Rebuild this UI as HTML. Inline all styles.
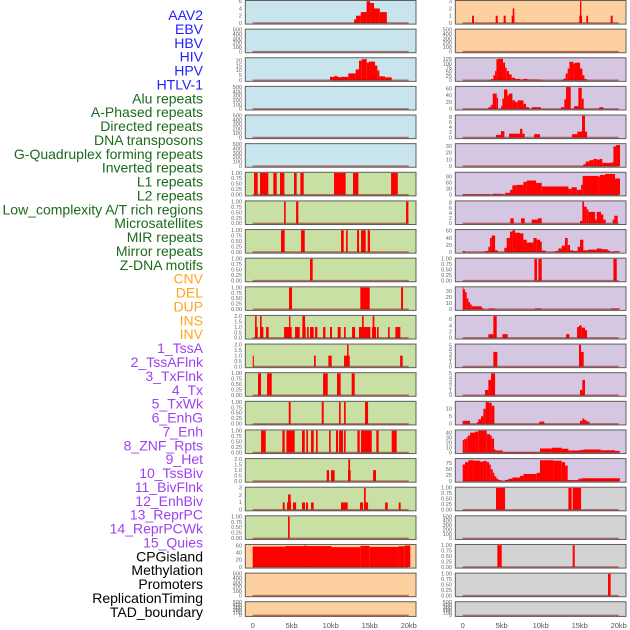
<!DOCTYPE html>
<html><head><meta charset="utf-8"><style>
html,body{margin:0;padding:0;background:#fff;width:630px;height:630px;overflow:hidden}
svg{display:block}
</style></head><body>
<svg id="chart" width="630" height="630" viewBox="0 0 630 630" xmlns="http://www.w3.org/2000/svg">
<g id="labels"></g>
<g id="panels"></g>
<g id="xaxes"></g>
</svg>
<script>
const labelNames = ["AAV2","EBV","HBV","HIV","HPV","HTLV-1","Alu repeats","A-Phased repeats","Directed repeats","DNA transposons","G-Quadruplex forming repeats","Inverted repeats","L1 repeats","L2 repeats","Low_complexity A/T rich regions","Microsatellites","MIR repeats","Mirror repeats","Z-DNA motifs","CNV","DEL","DUP","INS","INV","1_TssA","2_TssAFlnk","3_TxFlnk","4_Tx","5_TxWk","6_EnhG","7_Enh","8_ZNF_Rpts","9_Het","10_TssBiv","11_BivFlnk","12_EnhBiv","13_ReprPC","14_ReprPCWk","15_Quies","CPGisland","Methylation","Promoters","ReplicationTiming","TAD_boundary"];
const labelGroups = [0,0,0,0,0,0,1,1,1,1,1,1,1,1,1,1,1,1,1,2,2,2,2,2,3,3,3,3,3,3,3,3,3,3,3,3,3,3,3,4,4,4,4,4];
const groupColors = ["#1f1fff","#1a6b1a","#ffa51f","#a040f0","#000000"];
const panelBg = ["#c8e4ec","#c9e0a4","#fdd09f","#d5c6e1","#d3d3d3"];
const xTicks = [0,5,10,15,20];
const xTickLabels = ["0","5kb","10kb","15kb","20kb"];
const E = [0,100,200,300,400,500];
const B = [0,0.25,0.5,0.75,1];
const T2 = [0,0.5,1,1.5,2];
const panelMax = [6,500,22.2,500,500,500,1,1,1,1,1,2,2,1,1,1,2,3,1,61,500,500, 3,500,130,64,8.5,33,110,8.5,62,1,36,7,5.2,5,14.5,44,92,1,500,1,1,500];
const panelTicks = [[0,2,4,6],E,[0,5,10,15,20],E,E,E,B,B,B,B,B,T2,T2,B,B,B,T2,[0,1,2,3],B,[0,20,40,60],E,E,
 [0,1,2,3],E,[0,25,50,75,100,125],[0,20,40,60],[0,2,4,6,8],[0,10,20,30],[0,30,60,90],[0,2,4,6,8],[0,20,40,60],B,[0,10,20,30],[0,2,4,6],[0,1,2,3,4,5],[0,1,2,3,4,5],[0,5,10],[0,10,20,30,40],[0,25,50,75],B,E,B,B,E];
const panelTickDigits = [0,0,0,0,0,0,2,2,2,2,2,1,1,2,2,2,1,0,2,0,0,0, 0,0,0,0,0,0,0,0,0,2,0,0,0,0,0,0,0,2,0,2,2,0];
const panelBars = [
 [[13.0,13.25,1],[13.25,13.85,2],[13.85,14.6,3],[14.6,15.05,6],[15.05,15.55,5.5],[15.55,16.3,4],[16.3,17.2,3]],
 [],
 [[9.91,11.07,3.5],[10.5,10.8,4.5],[11.07,11.32,3],[11.32,12.26,3.5],[12.26,13.2,7],[13.2,13.63,11],[13.63,13.97,20],[13.97,14.62,21.5],[14.62,14.91,18],[14.91,15.68,19],[15.68,15.98,15],[15.98,16.24,10],[16.24,16.97,4],[16.97,17.82,3]],
 [],[],[],
 [[0.17,0.64,1],[0.94,2.0,1],[2.65,3.08,1],[3.5,4.06,1],[5.3,5.64,1],[6.11,6.54,1],[10.43,11.92,1],[12.86,13.55,1],[17.74,18.6,1]],
 [[4.02,4.23,1],[5.56,5.85,1],[19.66,19.96,1]],
 [[3.63,4.1,1],[6.2,6.67,1],[11.32,11.67,1],[11.97,12.18,1],[13.38,13.63,1],[13.89,14.49,1],[14.74,15.04,1]],
 [[7.35,7.69,1]],
 [[4.66,5.04,1],[13.8,15.0,1],[19.02,19.27,1]],
 [[0.3,0.64,1],[0.94,1.37,1],[1.71,2.05,1],[4.02,5.0,1],[5.43,6.03,1],[6.37,6.79,1],[6.97,7.18,1],[7.35,7.82,1],[7.99,8.29,1],[9.02,9.32,1],[9.91,10.17,1],[10.9,11.28,1],[11.71,11.92,1],[12.74,13.12,1],[13.63,15.09,1],[15.3,15.81,1],[15.94,16.15,1],[17.35,17.56,1],[18.29,18.93,1],
  [0.3,0.51,2],[0.94,1.15,2],[4.66,4.83,2],[6.37,6.71,2],[14.02,14.23,2],[15.38,15.6,2]],
 [[0.0,0.15,1],[7.86,8.08,1],[9.7,10.13,1],[11.71,12.44,1],[12.1,12.3,2],[18.9,19.23,1]],
 [[0.68,1.07,1],[1.84,2.44,1],[9.02,9.62,1],[10.81,11.28,1],[12.69,13.08,1]],
 [[4.62,4.87,1],[8.85,9.1,1],[11.07,11.28,1],[11.71,11.92,1],[14.4,14.79,1]],
 [[1.07,1.67,1],[3.8,4.1,1],[4.32,5.38,1],[6.32,6.67,1],[6.88,7.09,1],[7.48,7.82,1],[8.12,8.33,1],[9.79,10.0,1],[10.68,10.94,1],[11.07,11.58,1],[11.71,11.92,1],[13.42,13.72,1],[13.89,15.26,1],[15.85,16.15,1],[17.82,18.46,1]],
 [[9.49,9.79,1],[10.04,10.51,1],[12.22,12.56,1],[12.26,12.48,2],[15.43,15.81,1]],
 [[3.85,4.1,1],[4.4,4.91,1],[4.53,4.87,2.1],[5.17,5.56,1],[6.32,6.71,1],[6.84,7.09,1],[7.48,7.82,1],[11.32,12.18,1],[13.76,14.15,1],[14.32,14.79,1],[14.27,14.49,3],[16.97,17.31,1],[18.72,18.97,1]],
 [[4.53,4.74,1]],
 [[0,4.2,57],[4.2,10.1,58.5],[6.6,6.8,60],[10.1,13.8,55.5],[13.8,15.0,59],[15.0,18.7,56],[18.7,19.5,58],[19.5,20.2,60]],
 [],[],
 [[1.2,1.45,1],[4.23,4.49,1],[5.26,5.51,1],[6.28,6.62,1],[6.41,6.62,2],[14.95,15.3,1],[15.04,15.21,3],[15.85,16.07,1],[18.97,19.23,1]],
 [],
 [[3.29,3.63,2],[3.63,3.93,7],[3.93,4.15,30],[4.15,4.32,55],[4.32,4.53,125],[4.53,5.17,128],[5.17,5.43,105],[5.43,5.64,75],[5.64,5.94,55],[5.94,6.28,35],[6.28,6.71,15],[6.71,7.35,8],[7.35,7.78,5],[7.78,8.29,8],[8.29,9.27,5],[9.27,10.13,4],[12.69,12.95,3],[12.95,13.2,10],[13.2,13.46,40],[13.46,13.68,70],[13.68,14.19,110],[14.19,14.4,100],[14.4,15.04,105],[15.04,15.34,70],[15.34,15.6,30],[15.6,15.9,8]],
 [[3.29,3.59,5],[3.59,3.85,12],[3.85,4.36,45],[4.36,4.53,33],[4.91,5.09,8],[5.09,5.3,30],[5.3,5.73,57],[5.73,5.94,40],[5.94,6.37,45],[6.37,6.71,25],[6.71,7.05,20],[7.05,7.78,25],[7.78,8.12,15],[8.12,8.5,5],[8.85,10.04,5],[12.61,13.03,5],[13.03,13.25,28],[13.25,13.85,66],[14.27,14.83,8],[14.83,15.26,62],[15.26,15.51,30],[17.52,18.03,5]],
 [[4.27,4.91,1],[4.91,5.34,2.5],[5.94,7.35,1.5],[7.35,7.65,3.4],[7.65,7.95,1.5],[9.15,9.91,1.3],[14.02,14.7,1.3],[14.7,15.3,2.3],[15.3,15.68,8.5],[15.68,15.94,2.3]],
 [[15.47,15.77,3],[15.77,16.24,7],[16.24,16.75,9],[16.75,17.18,11],[17.18,17.6,10],[17.6,17.9,11],[17.9,19.1,5],[19.1,19.32,6],[19.32,19.66,30],[19.66,20.17,32]],
 [[0,3.5,3],[3.85,5.21,5],[5.43,6.07,10],[6.07,6.37,25],[6.37,6.92,48],[6.92,7.78,50],[7.78,8.2,65],[8.2,9.4,72],[9.4,10.13,60],[10.13,13.55,42],[13.55,13.97,30],[13.97,14.62,38],[14.62,15.17,25],[15.17,15.38,50],[15.38,17.39,95],[17.39,17.6,92],[17.6,18.25,100],[18.25,19.53,105],[19.53,20.17,82]],
 [[6.11,6.54,2],[7.48,7.95,2],[8.85,9.62,1.5],[9.62,10.13,2],[15.04,15.34,1],[15.34,15.56,8.5],[15.56,15.9,6.5],[15.9,16.11,5.5],[16.11,16.97,4.5],[16.97,17.18,1.5],[17.18,17.74,4.5],[17.74,18.03,3.5],[18.03,18.33,1.5],[19.23,19.44,1.5],[19.44,19.87,3]],
 [[0,0.3,3],[2.86,3.29,3],[3.29,3.5,15],[3.5,3.72,40],[3.72,4.15,47],[4.15,4.49,5],[5.34,5.64,12],[5.64,6.07,40],[6.07,6.37,58],[6.37,6.71,62],[6.71,7.35,55],[7.35,7.78,53],[7.78,8.2,35],[8.2,9.06,27],[9.06,9.49,40],[9.49,9.91,35],[9.91,10.13,30],[10.13,10.64,4],[11.84,12.26,3],[12.26,12.69,10],[12.69,13.12,18],[13.12,13.46,40],[13.46,13.76,20],[13.76,14.19,5],[14.19,14.74,3],[14.74,15.04,15],[15.04,15.47,35],[15.47,16.11,5],[16.11,17.18,7],[17.18,17.82,10],[17.82,18.59,8],[18.59,18.89,4],[19.32,20.17,2]],
 [[9.19,9.53,1],[9.7,10.13,1],[19.32,19.75,1]],
 [[0,0.1,36],[0.1,0.3,33],[0.3,0.51,28],[0.51,0.73,18],[0.73,0.94,12],[0.94,1.15,8],[1.15,2.44,5],[2.44,2.65,2],[3.29,4.15,1.5],[9.27,10.13,1.5],[19.02,20.17,1.5]],
 [[3.29,3.93,1.2],[3.93,4.36,7],[5.09,5.77,1.2],[13.25,13.68,1.2],[14.66,14.91,3.5],[14.91,15.26,4],[15.26,15.68,3.3],[15.68,15.94,2.5]],
 [[3.93,4.44,3.5],[14.91,15.17,5.2],[15.17,15.51,3.5]],
 [[2.86,3.29,1.2],[3.29,3.63,3.5],[3.63,4.15,5],[15.04,15.34,1.2],[15.34,15.68,3.5]],
 [[0,0.94,2],[1.8,2.0,1],[2.0,2.35,3],[2.35,2.65,5],[2.65,2.95,10],[2.95,3.38,14.5],[3.38,3.72,14],[3.72,4.06,12],[9.83,10.47,1.5],[15.04,15.34,2],[15.34,15.6,3.5],[15.6,15.9,2.5],[15.9,16.24,1.5]],
 [[0,0.2,25],[0.2,0.47,27],[0.47,0.64,30],[0.64,0.94,34],[0.94,1.58,40],[1.58,2.0,42],[2.0,3.08,44],[3.08,3.5,37],[3.5,3.72,34],[3.72,4.02,28],[4.02,4.23,6],[4.23,5.13,4],[5.13,9.91,1],[9.91,11.41,8],[11.41,12.69,9.5],[12.69,13.55,7.5],[13.55,15.04,4],[15.04,15.47,5],[15.47,17.69,6],[17.69,19.53,4.5],[19.53,20.17,3]],
 [[0,0.3,70],[0.3,0.73,80],[0.73,1.37,88],[1.37,2.22,86],[2.22,2.65,82],[2.65,3.08,85],[3.08,3.38,80],[3.38,3.59,70],[3.59,3.85,50],[3.85,4.06,35],[4.06,4.32,20],[4.32,4.57,10],[4.57,5.0,4],[5.0,5.43,0.5],[5.43,5.85,5],[5.85,6.37,10],[6.37,7.35,15],[7.35,7.78,22],[7.78,9.49,30],[9.49,9.91,35],[9.91,11.62,88],[11.62,12.69,86],[12.69,13.12,80],[13.12,13.46,65],[13.46,13.76,5],[13.76,14.83,4],[14.83,15.26,10],[15.26,20.17,12]],
 [[4.27,5.43,1],[13.55,13.97,1],[14.1,15.17,1]],
 [],
 [[4.44,5.0,1],[14.1,14.36,1]],
 [[18.63,18.97,1]],
 []
];

const NS = "http://www.w3.org/2000/svg";
function mk(tag, attrs, parent){ const el=document.createElementNS(NS,tag); for(const k in attrs) el.setAttribute(k,attrs[k]); parent.appendChild(el); return el; }

// labels
const lg = document.getElementById('labels');
labelNames.forEach((name,i)=>{
  const t = mk('text',{x:203,y:(20+i*13.88).toFixed(2),'text-anchor':'end','font-family':'Liberation Sans, sans-serif','font-size':'14',fill:groupColors[labelGroups[i]]},lg);
  
  
  t.textContent = name;
});

const colX0 = [245.3, 455.3];
const colW = 170.7;
const dataX0 = [252.7, 462.7];
const pxPerKb = 7.8;
function xScale(col, kb){ return dataX0[col] + kb*pxPerKb; }
const pg = document.getElementById('panels');
const step = 28.63;

for(let i=0;i<44;i++){
  const col = i<22?0:1;
  const row = i%22;
  const top = row*step;
  const h = row===21 ? 15.7 : 24.6;
  const g = mk('g',{},pg);
  
  
  const bg = mk('rect',{x:colX0[col],y:top+0.5,width:colW,height:h-1,fill:panelBg[labelGroups[i]],stroke:'rgba(70,70,70,0.85)','stroke-width':1},g);
  
  
  const yTop = top+1.2, yBot = top+h-1.6;
  const ymax = panelMax[i];
  const yScale = v => yBot - (v/ymax)*(yBot-yTop);
  // ticks
  panelTicks[i].forEach(tv=>{
    const t = mk('text',{x:col===0?242:452,y:(yScale(tv)+1.8).toFixed(2),'text-anchor':'end','font-family':'Liberation Sans, sans-serif','font-size':'5.6',fill:'#666'},g);
    
    
    t.textContent = tv.toFixed(panelTickDigits[i]);
  });
  // bars
  panelBars[i].forEach(b=>{
    const x1 = Math.max(xScale(col,b[0]), colX0[col]+1);
    const x2 = Math.min(xScale(col,b[1]), colX0[col]+colW-1);
    const y = yScale(Math.min(b[2],ymax));
    const r = mk('rect',{x:x1.toFixed(2),y:Math.max(y,top+1).toFixed(2),width:Math.max(x2-x1,0.8).toFixed(2),height:(yBot-Math.max(y,top+1)).toFixed(2),fill:'#ff0000'},g);
    
    
  });
  const base = mk('line',{x1:xScale(col,0),x2:xScale(col,20),y1:yBot,y2:yBot,stroke:'rgba(140,20,20,0.55)','stroke-width':1.5},g);
  
  
}

const xg = document.getElementById('xaxes');
[0,1].forEach(col=>{
  xTicks.forEach((kb,j)=>{
    const t = mk('text',{x:xScale(col,kb).toFixed(2),y:628,'text-anchor':'middle','font-family':'Liberation Sans, sans-serif','font-size':'7.5',fill:'#555'},xg);
    
    
    t.textContent = xTickLabels[j];
  });
});
</script>
</body></html>
